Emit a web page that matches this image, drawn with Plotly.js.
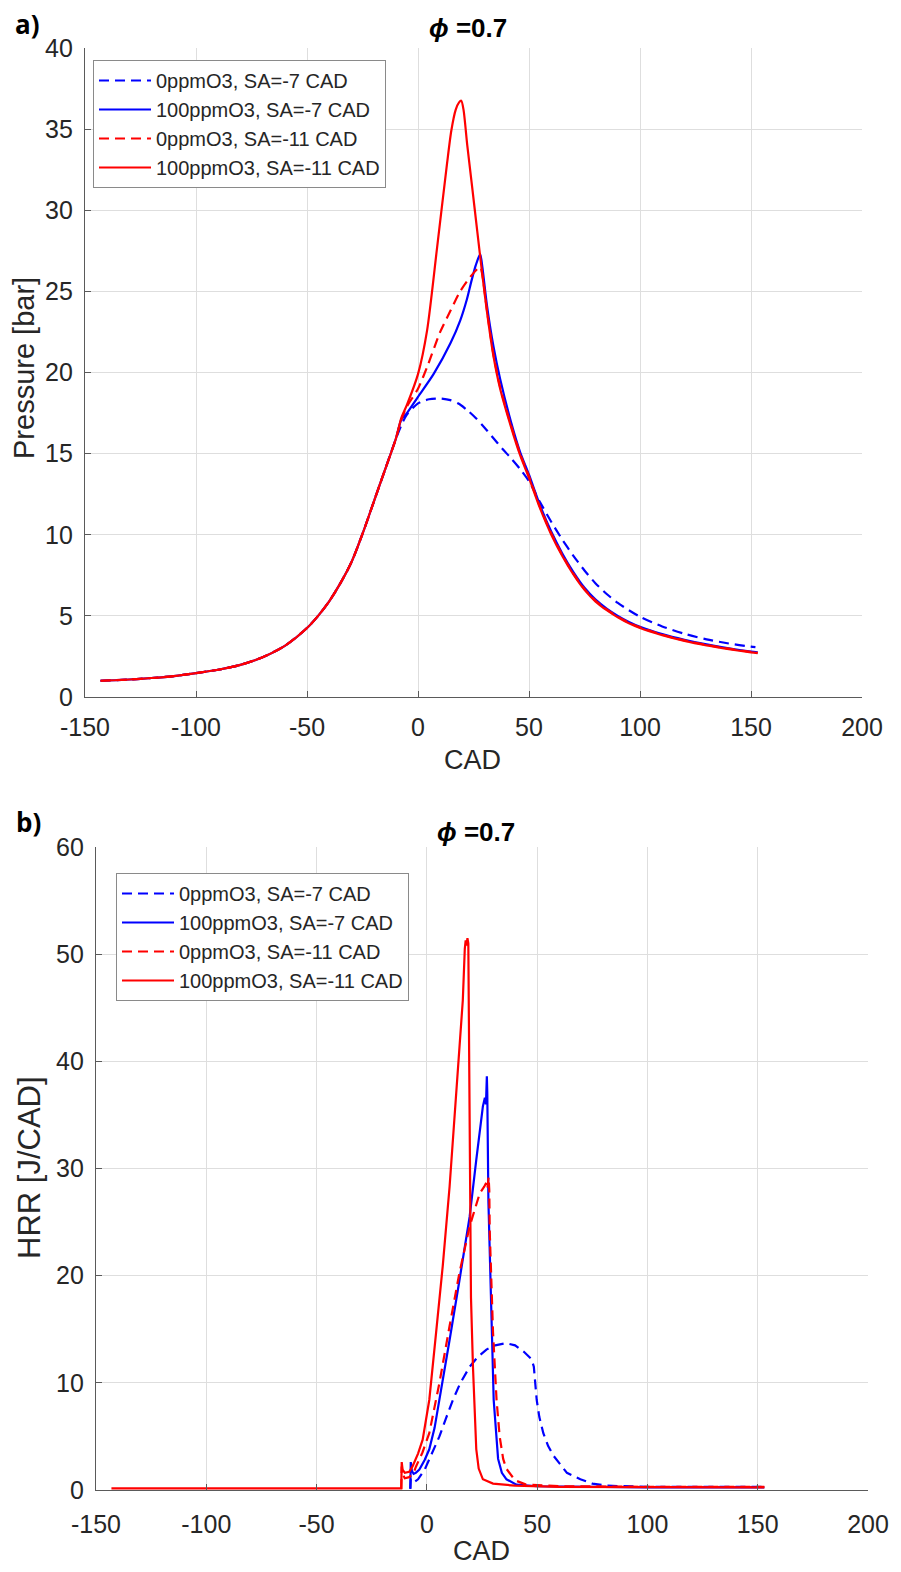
<!DOCTYPE html>
<html>
<head>
<meta charset="utf-8">
<script src="https://cdn.plot.ly/plotly-3.0.1.min.js"></script>
<style>html,body{margin:0;padding:0;background:#fff;}#chart{width:901px;height:1572px;}</style>
</head>
<body>
<div id="chart"></div>
<script>
// ---------- legend names ----------
const seriesNames = ["0ppmO3, SA=-7 CAD", "100ppmO3, SA=-7 CAD", "0ppmO3, SA=-11 CAD", "100ppmO3, SA=-11 CAD"];
const seriesColors = ["#0000ff", "#0000ff", "#ff0000", "#ff0000"];

// ---------- a) Pressure [bar] ----------
// shared compression part
const cadComp = [-143, -130, -120, -110, -100, -90, -80, -70, -60, -50, -45, -40, -35, -30, -25, -20, -15, -10];
const pComp   = [1.0, 1.08, 1.17, 1.29, 1.47, 1.68, 1.98, 2.45, 3.15, 4.25, 5.0, 5.9, 7.0, 8.3, 10.05, 12.0, 13.95, 15.9];

// 0ppmO3, SA=-7
const cadP0_7 = [-7, -5, 0, 5, 10, 14.6, 18, 22, 26, 30, 34, 38, 42, 46, 50, 55, 60, 65, 70, 75, 80, 85, 90, 95, 100, 110, 120, 130, 140, 150, 152];
const p0_7    = [16.9, 17.4, 18.1, 18.35, 18.4, 18.3, 18.1, 17.7, 17.2, 16.6, 15.95, 15.3, 14.7, 14.05, 13.3, 12.0, 10.8, 9.7, 8.7, 7.8, 7.0, 6.35, 5.8, 5.35, 4.95, 4.35, 3.9, 3.55, 3.3, 3.1, 3.07];
// 100ppmO3, SA=-7
const cadP100_7 = [-7.5, -5, 0, 7, 14.6, 19, 22, 24, 26, 28, 29, 31, 34, 37, 42, 46, 50, 55, 60, 65, 70, 75, 80, 85, 90, 95, 100, 110, 120, 130, 140, 150, 153];
const p100_7    = [17.1, 17.5, 18.5, 19.9, 21.8, 23.2, 24.5, 25.6, 26.6, 27.3, 26.5, 24.2, 21.6, 19.6, 16.9, 15.1, 13.7, 11.8, 10.2, 8.85, 7.7, 6.73, 6.0, 5.45, 5.0, 4.63, 4.33, 3.88, 3.53, 3.24, 3.0, 2.8, 2.75];
// 0ppmO3, SA=-11
const cadP0_11 = [-7.5, -5, 0, 4, 10, 14.6, 19, 23.6, 28, 29, 31.2, 34, 37, 42, 46, 50, 55, 60, 65, 70, 75, 80, 85, 90, 95, 100, 110, 120, 130, 140, 150, 153];
const p0_11    = [17.1, 17.9, 19.0, 20.3, 22.5, 23.8, 25.0, 25.9, 26.5, 26.0, 23.7, 21.1, 19.1, 16.7, 15.0, 13.6, 11.7, 10.1, 8.75, 7.6, 6.65, 5.93, 5.4, 4.95, 4.58, 4.29, 3.84, 3.49, 3.21, 2.98, 2.78, 2.73];
// 100ppmO3, SA=-11
const cadP100_11 = [-7.5, -5, 0, 4.1, 8.6, 13.1, 15, 17, 18.5, 19.5, 20.5, 22.2, 24.5, 26.7, 29, 31.2, 34, 37, 42, 46, 50, 55, 60, 65, 70, 75, 80, 85, 90, 95, 100, 110, 120, 130, 140, 150, 153];
const p100_11    = [17.2, 18.0, 19.9, 22.6, 27.7, 32.9, 34.9, 36.2, 36.65, 36.75, 36.2, 34.0, 31.3, 28.7, 26.0, 23.6, 21.0, 19.0, 16.6, 14.9, 13.5, 11.62, 10.02, 8.69, 7.55, 6.6, 5.88, 5.35, 4.91, 4.54, 4.25, 3.81, 3.46, 3.18, 2.95, 2.75, 2.7];

// ---------- b) HRR [J/CAD] ----------
const cadH0_7 = [-7.5, -7.3, -6, -4, -1, 1.1, 3.5, 5.7, 8.5, 11.8, 15, 19.4, 23, 27, 31, 36, 40, 44, 47.5, 48.5, 49.8, 51, 52.8, 55, 57.4, 60, 63.5, 69.6, 75, 81.8, 100, 153];
const h0_7    = [0.1, 1.0, 0.7, 1.0, 1.9, 2.9, 3.9, 5.0, 6.6, 8.4, 9.9, 11.5, 12.4, 13.1, 13.5, 13.7, 13.5, 12.9, 12.2, 11.5, 8.4, 6.8, 5.3, 4.1, 3.2, 2.5, 1.6, 1.0, 0.6, 0.4, 0.3, 0.3];
const cadH100_7 = [-7.5, -7.3, -6.8, -6, -5, -3.4, -1, 1.1, 3.5, 5.7, 8, 10.3, 14.8, 19.4, 22.4, 25.4, 26.3, 26.8, 27.2, 27.4, 27.9, 29.3, 30.3, 32.3, 34, 36.1, 40.6, 50, 100, 153];
const h100_7    = [0.15, 2.6, 1.8, 1.5, 1.6, 1.9, 2.8, 3.8, 5.8, 8.4, 11.2, 14.0, 19.6, 25.5, 30.8, 35.8, 36.6, 36.0, 38.6, 37.0, 27.0, 14.7, 8.4, 2.9, 1.6, 1.0, 0.5, 0.35, 0.25, 0.25];
const cadH0_11 = [-11.6, -11.4, -11, -10, -8, -6, -4.9, -2, 1.1, 5.7, 10.3, 14.8, 19.4, 24, 26, 27, 27.5, 28, 28.3, 28.5, 30, 31.6, 33, 34.6, 36, 38.4, 40, 45, 60, 100, 153];
const h0_11    = [0.1, 2.2, 1.5, 1.1, 1.2, 1.6, 2.2, 3.5, 5.3, 10.0, 15.3, 20.3, 24.6, 27.7, 28.3, 28.7, 28.2, 29.2, 28.0, 24.2, 14.7, 8.4, 5.0, 2.9, 2.0, 1.3, 0.9, 0.5, 0.35, 0.3, 0.3];
const cadH100_11 = [-143, -11.6, -11.4, -11, -10, -8, -6.5, -4, -1.9, 1.1, 4.2, 7.2, 10.3, 13.3, 16.3, 17.2, 17.6, 18.0, 18.4, 18.8, 19.0, 19.4, 20.0, 20.9, 22.4, 23.5, 25.4, 30, 40, 60, 100, 153];
const h100_11    = [0.15, 0.15, 2.6, 1.9, 1.6, 1.7, 2.2, 3.4, 4.7, 8.4, 14.7, 20.9, 28.3, 37.1, 45.7, 50.5, 51.3, 50.8, 51.5, 51.0, 44.0, 27.1, 18.0, 11.5, 3.8, 2.0, 1.0, 0.6, 0.4, 0.3, 0.25, 0.25];

// ---------- axis ticks ----------
const cadTicks = [-150, -100, -50, 0, 50, 100, 150, 200];
const cadTickText = ["-150", "-100", "-50", "0", "50", "100", "150", "200"];
const pTicks = [0, 5, 10, 15, 20, 25, 30, 35, 40];
const hTicks = [0, 10, 20, 30, 40, 50, 60];

const W = 901, H = 1572;
const DASH = "10px,6px";
const LW = 2.2;

function pTrace(i, x, y, dash) {
  return {
    x: cadComp.concat(x), y: pComp.concat(y), type: "scatter", mode: "lines",
    name: seriesNames[i], legend: "legend", legendgroup: "a" + i,
    line: {color: seriesColors[i], width: LW, dash: dash, shape: "spline", smoothing: 0.7},
    xaxis: "x", yaxis: "y"
  };
}
function hTrace(i, x, y, dash) {
  return {
    x: x, y: y, type: "scatter", mode: "lines",
    name: seriesNames[i], legend: "legend2", legendgroup: "b" + i,
    line: {color: seriesColors[i], width: LW, dash: dash},
    xaxis: "x2", yaxis: "y2"
  };
}

const data = [
  pTrace(0, cadP0_7, p0_7, DASH),
  pTrace(1, cadP100_7, p100_7, "solid"),
  pTrace(2, cadP0_11, p0_11, DASH),
  pTrace(3, cadP100_11, p100_11, "solid"),
  hTrace(0, cadH0_7, h0_7, DASH),
  hTrace(1, cadH100_7, h100_7, "solid"),
  hTrace(2, cadH0_11, h0_11, DASH),
  hTrace(3, cadH100_11, h100_11, "solid")
];

const tickFont = {family: "Liberation Sans, Arial, sans-serif", size: 25, color: "#262626"};
function axis(extra) {
  return Object.assign({
    showgrid: true, gridcolor: "#dedede", gridwidth: 1, zeroline: false,
    showline: true, linecolor: "#5a5a5a", linewidth: 1.2, mirror: false,
    ticks: "inside", ticklen: 6, tickcolor: "#5a5a5a", tickwidth: 1,
    tickfont: tickFont, automargin: false, fixedrange: true
  }, extra);
}

const legendBase = {
  bgcolor: "#ffffff", bordercolor: "#8a8a8a", borderwidth: 1,
  font: {family: "Liberation Sans, Arial, sans-serif", size: 20, color: "#262626"},
  xanchor: "left", yanchor: "top", itemwidth: 52, tracegroupgap: 0,
  itemclick: false, itemdoubleclick: false
};

const titleFont = {family: "Liberation Sans, Arial, sans-serif", size: 26, color: "#000"};
const axTitleFont = {family: "Liberation Sans, Arial, sans-serif", size: 27, color: "#262626"};
const panelFont = {family: "Open Sans, Noto Sans, sans-serif", size: 26, color: "#000"};

function ann(text, px, py, font, extra) {
  return Object.assign({text: text, xref: "paper", yref: "paper", x: px / W, y: 1 - py / H,
    xanchor: "center", yanchor: "middle", showarrow: false, font: font}, extra || {});
}

const layout = {
  width: W, height: H,
  margin: {l: 0, r: 0, t: 0, b: 0},
  paper_bgcolor: "#ffffff", plot_bgcolor: "#ffffff",
  showlegend: true,
  xaxis: axis({domain: [85 / W, 862 / W], range: [-150, 200], tickvals: cadTicks, ticktext: cadTickText, anchor: "y", ticklabelstandoff: 8}),
  yaxis: axis({domain: [1 - 697 / H, 1 - 48 / H], range: [0, 40], tickvals: pTicks, anchor: "x", ticklabelstandoff: 6}),
  xaxis2: axis({domain: [96 / W, 868 / W], range: [-150, 200], tickvals: cadTicks, ticktext: cadTickText, anchor: "y2", ticklabelstandoff: 12}),
  yaxis2: axis({domain: [1 - 1490 / H, 1 - 847 / H], range: [0, 60], tickvals: hTicks, anchor: "x2", ticklabelstandoff: 6}),
  legend: Object.assign({}, legendBase, {x: 93 / W, y: 1 - 60 / H}),
  legend2: Object.assign({}, legendBase, {x: 116 / W, y: 1 - 873 / H}),
  annotations: [
    ann("<b><i>ϕ</i> =0.7</b>", 468, 28, titleFont),
    ann("<b><i>ϕ</i> =0.7</b>", 476, 832, titleFont),
    ann("<b>a)</b>", 27, 24, panelFont),
    ann("<b>b)</b>", 28, 822, panelFont),
    ann("Pressure [bar]", 24, 368, Object.assign({}, axTitleFont, {size: 29}), {textangle: -90}),
    ann("CAD", 472, 760, axTitleFont),
    ann("HRR [J/CAD]", 29, 1168, Object.assign({}, axTitleFont, {size: 31}), {textangle: -90}),
    ann("CAD", 482, 1551, axTitleFont)
  ]
};

Plotly.newPlot("chart", data, layout, {displayModeBar: false, staticPlot: true});
</script>
</body>
</html>
